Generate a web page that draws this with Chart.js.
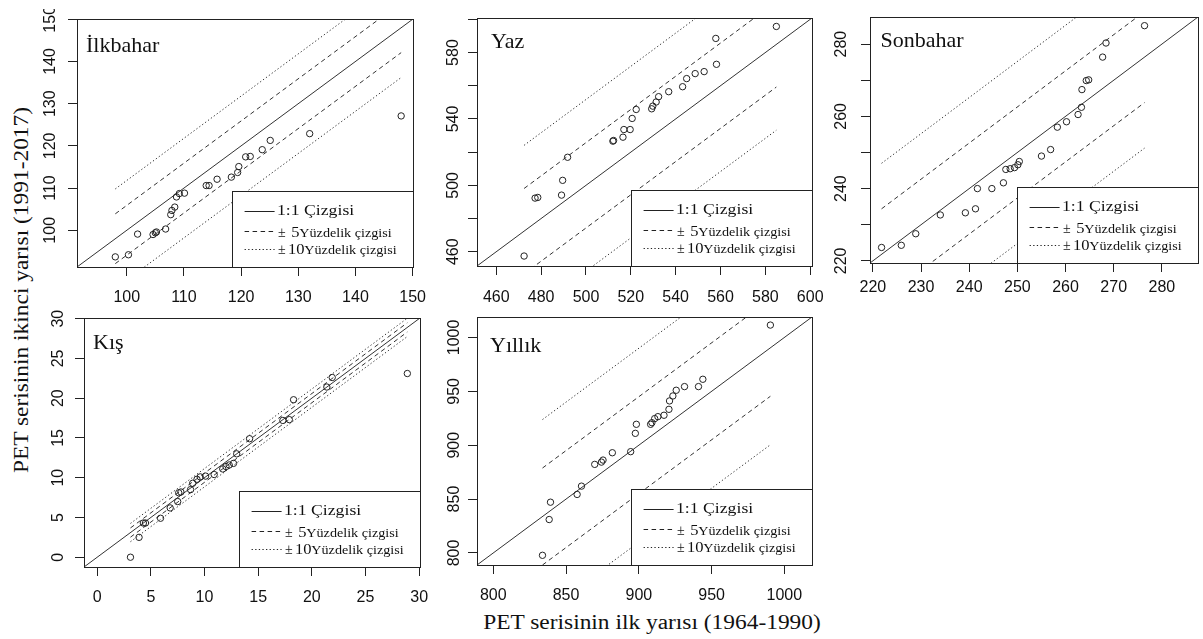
<!DOCTYPE html>
<html>
<head>
<meta charset="utf-8">
<script src="https://cdn.jsdelivr.net/npm/chart.js@4.4.1/dist/chart.umd.min.js"></script>
<style>
  body { margin: 0; background: #fff; width: 1203px; height: 639px; overflow: hidden; position: relative; }
  canvas { position: absolute; }
  .axt { position: absolute; font: 20px "Liberation Serif", "Times New Roman", serif; line-height: 20px;
         white-space: nowrap; color: #111; transform-origin: 0 0; }
</style>
</head>
<body>
<div class="axt" id="ytitle">PET serisinin ikinci yarısı (1991-2017)</div>
<div class="axt" id="xtitle">PET serisinin ilk yarısı (1964-1990)</div>
<canvas id="c1"></canvas>
<canvas id="c2"></canvas>
<canvas id="c3"></canvas>
<canvas id="c4"></canvas>
<canvas id="c5"></canvas>
<script>
// değerler (ilk yarı = x, ikinci yarı = y)
const ilkbaharX = [98.0, 100.3, 101.9, 104.6, 105.0, 105.2, 106.8, 107.7, 107.9, 108.4, 108.7, 109.2, 110.1, 113.9, 114.4, 115.8, 118.3, 119.4, 119.6, 120.8, 121.6, 123.7, 125.1, 132.0, 148.0];
const ilkbaharY = [93.7, 94.2, 99.1, 99.0, 99.4, 99.6, 100.3, 103.7, 104.7, 105.5, 107.9, 108.7, 108.8, 110.6, 110.6, 112.1, 112.6, 113.7, 115.1, 117.4, 117.5, 119.1, 121.3, 122.9, 127.1];

const yazX = [472.4, 477.3, 478.5, 489.1, 489.6, 491.8, 512.0, 512.3, 516.5, 516.9, 519.7, 520.6, 522.4, 529.3, 529.8, 531.3, 532.4, 536.9, 543.1, 544.9, 548.7, 552.7, 558.2, 557.9, 584.9];
const yazY = [457.4, 492.3, 492.7, 494.1, 503.0, 516.9, 526.6, 527.0, 529.0, 533.6, 533.6, 540.3, 545.7, 546.1, 547.7, 550.2, 553.4, 556.4, 559.4, 564.3, 567.3, 568.5, 572.9, 588.5, 595.7];

const sonbaharX = [221.8, 225.9, 228.9, 234.0, 239.2, 241.3, 241.7, 244.7, 247.1, 247.6, 248.5, 249.4, 250.1, 250.4, 255.0, 256.9, 258.3, 260.2, 262.6, 263.3, 263.4, 264.3, 264.8, 267.7, 268.4, 276.4];
const sonbaharY = [223.7, 224.3, 227.5, 232.7, 233.3, 234.4, 240.0, 240.0, 241.6, 245.3, 245.5, 245.8, 246.6, 247.5, 249.0, 250.8, 257.0, 258.5, 260.5, 262.5, 267.4, 269.9, 270.1, 276.4, 280.3, 285.1];

const kisX = [3.1, 3.9, 4.3, 4.5, 5.9, 6.8, 7.5, 7.6, 7.8, 8.7, 8.9, 9.3, 9.6, 10.1, 10.9, 11.7, 12.0, 12.3, 12.7, 13.0, 14.2, 17.3, 17.9, 18.3, 21.4, 21.9, 28.9];
const kisY = [0.0, 2.5, 4.3, 4.3, 4.9, 6.2, 7.0, 8.1, 8.2, 8.5, 9.3, 9.8, 10.1, 10.2, 10.4, 11.1, 11.4, 11.6, 11.8, 13.0, 14.9, 17.2, 17.3, 19.8, 21.4, 22.6, 23.1];

const yillikX = [833.8, 838.4, 839.3, 857.6, 860.6, 869.7, 874.3, 875.4, 881.8, 894.4, 897.6, 898.3, 908.1, 909.0, 910.9, 913.1, 917.3, 920.7, 921.1, 923.4, 925.7, 931.4, 941.0, 944.0, 990.4];
const yillikY = [797.8, 831.0, 847.1, 854.3, 862.0, 882.2, 884.3, 886.2, 893.0, 894.0, 911.0, 919.4, 919.4, 920.9, 924.7, 926.5, 927.8, 933.3, 941.1, 945.7, 951.0, 954.4, 954.4, 961.2, 1011.5];

// eksen sınırları ve tick değerleri
const ilkbaharLim = [91.3, 150.07];
const yazLim = [451.4, 600.8];
const sonbaharLim = [219.4, 287.5];
const kisLim = [-1.23, 30.08];
const yillikLim = [788.8, 1019.0];

const ilkbaharTicks = [100, 110, 120, 130, 140, 150];
const yazTicks = [460, 480, 500, 520, 540, 560, 580, 600];
const yazYLabels = [460, 500, 540, 580];
const sonbaharTicks = [220, 230, 240, 250, 260, 270, 280];
const sonbaharYLabels = [220, 240, 260, 280];
const kisTicks = [0, 5, 10, 15, 20, 25, 30];
const yillikTicks = [800, 850, 900, 950, 1000];

// ±5 ve ±10 çizgilerinin 1:1 çizgisinden uzaklığı
const ilkbaharBand = [5.9, 11.8];
const yazBand = [25.7, 51.7];
const sonbaharBand = [12.6, 25.2];
const kisBand = [0.58, 1.15];
const yillikBand = [45, 90];

const lineLabel = '1:1 Çizgisi';
const bandLabel = 'Yüzdelik çizgisi';
const bandValues = ['5', '10'];

const AXIS_W = 60, AXIS_H = 45, PAD_T = 10;
const sansFont = '"Liberation Sans", Arial, sans-serif';
const serifFont = '"Liberation Serif", "Times New Roman", serif';

const panels = [
    { id: 'c1', title: 'İlkbahar', x: ilkbaharX, y: ilkbaharY, lim: ilkbaharLim, xTicks: ilkbaharTicks, yTicks: ilkbaharTicks, yLabels: ilkbaharTicks, band: ilkbaharBand,
      box: [77, 19, 413, 267], padR: 20, yLab: 28, xLab: 29, tx: 9, ty: 33 },
    { id: 'c2', title: 'Yaz', x: yazX, y: yazY, lim: yazLim, xTicks: yazTicks, yTicks: yazTicks, yLabels: yazYLabels, band: yazBand,
      box: [477, 18, 812, 266], padR: 20, yLab: 25, xLab: 30, tx: 14, ty: 30 },
    { id: 'c3', title: 'Sonbahar', x: sonbaharX, y: sonbaharY, lim: sonbaharLim, xTicks: sonbaharTicks, yTicks: sonbaharTicks, yLabels: sonbaharYLabels, band: sonbaharBand,
      box: [870, 17, 1202, 263], padR: 1, yLab: 30, xLab: 23, tx: 10.5, ty: 30 },
    { id: 'c4', title: 'Kış', x: kisX, y: kisY, lim: kisLim, xTicks: kisTicks, yTicks: kisTicks, yLabels: kisTicks, band: kisBand,
      box: [84, 318, 420, 567], padR: 20, yLab: 27, xLab: 29, tx: 9, ty: 31 },
    { id: 'c5', title: 'Yıllık', x: yillikX, y: yillikY, lim: yillikLim, xTicks: yillikTicks, yTicks: yillikTicks, yLabels: yillikTicks, band: yillikBand,
      box: [477, 317, 812, 565], padR: 20, yLab: 23.4, xLab: 29, tx: 13, ty: 35 }
];

// yazıyı yatayda biraz genişleterek çiz
function stretchText(ctx, text, x, y, font, sx) {
    ctx.save();
    ctx.translate(x, y);
    ctx.scale(sx, 1);
    ctx.font = font;
    ctx.textAlign = 'left';
    ctx.textBaseline = 'alphabetic';
    ctx.fillText(text, 0, 0);
    ctx.restore();
}

function drawLegend(ctx, a) {
    const L = Math.round(a.right - 181), T = Math.round(a.bottom - 76.5);
    ctx.fillStyle = '#fff';
    ctx.fillRect(L, T, a.right - L, a.bottom - T);
    ctx.strokeStyle = '#222';
    ctx.lineWidth = 1;
    ctx.setLineDash([]);
    ctx.strokeRect(L + 0.5, T + 0.5, a.right - L, a.bottom - T);

    const rows = [19.7, 40.2, 58.1];
    const dashes = [[], [4.5, 3.5], [1.3, 2.3]];
    rows.forEach((r, i) => {
        const yy = Math.round(T + r) + 0.5;
        ctx.setLineDash(dashes[i]);
        ctx.beginPath();
        ctx.moveTo(L + 12.6, yy);
        ctx.lineTo(L + 42.6, yy);
        ctx.stroke();
    });
    ctx.setLineDash([]);
    ctx.fillStyle = '#111';
    stretchText(ctx, lineLabel, L + 45, T + 24, '15px ' + serifFont, 1.18);
    stretchText(ctx, '±', L + 46, T + 45.5, '14px ' + serifFont, 1);
    stretchText(ctx, bandValues[0], L + 59.3, T + 45.5, '14px ' + serifFont, 1.18);
    stretchText(ctx, bandLabel, L + 67.3, T + 45.5, '12px ' + serifFont, 1.18);
    stretchText(ctx, '±', L + 46, T + 63.3, '14px ' + serifFont, 1);
    stretchText(ctx, bandValues[1], L + 56, T + 63.3, '14px ' + serifFont, 1.18);
    stretchText(ctx, bandLabel, L + 72.3, T + 63.3, '12px ' + serifFont, 1.18);
}

function makeDecor(p) {
    return {
        id: 'decor' + p.id,
        afterDatasetsDraw(chart) {
            drawLegend(chart.ctx, chart.chartArea);
        },
        afterDraw(chart) {
            const ctx = chart.ctx, a = chart.chartArea;
            const xs = chart.scales.x, ys = chart.scales.y;
            ctx.save();
            ctx.strokeStyle = '#222';
            ctx.lineWidth = 1;
            ctx.setLineDash([]);
            ctx.strokeRect(a.left + 0.5, a.top + 0.5, a.right - a.left, a.bottom - a.top);

            ctx.fillStyle = '#111';
            ctx.font = '16px ' + sansFont;
            ctx.textAlign = 'center';
            ctx.textBaseline = 'alphabetic';
            p.xTicks.forEach(v => {
                ctx.fillText(String(v), xs.getPixelForValue(v), a.bottom + p.xLab + 5.7);
            });
            p.yLabels.forEach(v => {
                ctx.save();
                ctx.translate(a.left - p.yLab + 5.7, ys.getPixelForValue(v));
                ctx.rotate(-Math.PI / 2);
                ctx.fillText(String(v), 0, 0);
                ctx.restore();
            });

            ctx.font = '22px ' + serifFont;
            ctx.textAlign = 'left';
            ctx.fillText(p.title, a.left + p.tx, a.top + p.ty);
            ctx.restore();
        }
    };
}

function scaleOpts(lim, ticks, pos) {
    return {
        type: 'linear',
        position: pos,
        min: lim[0],
        max: lim[1],
        afterBuildTicks: s => { s.ticks = ticks.map(v => ({ value: v })); },
        afterFit: s => { if (pos === 'bottom') s.height = AXIS_H; else s.width = AXIS_W; },
        ticks: { display: false },
        grid: { drawOnChartArea: false, drawTicks: true, tickLength: 9, color: '#222', lineWidth: 1 },
        border: { display: false }
    };
}

function buildDatasets(p) {
    const x0 = Math.min(...p.x), x1 = Math.max(...p.x);
    const band = d => [{ x: x0, y: x0 + d }, { x: x1, y: x1 + d }];
    const line = (data, dash) => ({
        type: 'line', data: data, borderColor: '#333', borderWidth: 1, borderDash: dash,
        pointRadius: 0, fill: false, tension: 0
    });
    return [
        {
            type: 'scatter',
            data: p.x.map((v, i) => ({ x: v, y: p.y[i] })),
            pointStyle: 'circle', pointRadius: 3.2, borderColor: '#222', borderWidth: 1,
            backgroundColor: 'rgba(0,0,0,0)'
        },
        line([{ x: p.lim[0], y: p.lim[0] }, { x: p.lim[1], y: p.lim[1] }], []),
        line(band(p.band[0]), [4.5, 3.5]),
        line(band(-p.band[0]), [4.5, 3.5]),
        line(band(p.band[1]), [1.3, 2.3]),
        line(band(-p.band[1]), [1.3, 2.3])
    ];
}

panels.forEach(p => {
    const [bl, bt, br, bb] = p.box;
    const cv = document.getElementById(p.id);
    cv.width = (br - bl) + AXIS_W + p.padR;
    cv.height = (bb - bt) + PAD_T + AXIS_H;
    cv.style.left = (bl - AXIS_W) + 'px';
    cv.style.top = (bt - PAD_T) + 'px';

    new Chart(cv.getContext('2d'), {
        type: 'scatter',
        data: { datasets: buildDatasets(p) },
        options: {
            responsive: false,
            animation: false,
            devicePixelRatio: 1,
            events: [],
            layout: { padding: { left: 0, top: PAD_T, right: p.padR, bottom: 0 } },
            plugins: { legend: { display: false }, tooltip: { enabled: false } },
            scales: {
                x: scaleOpts(p.lim, p.xTicks, 'bottom'),
                y: scaleOpts(p.lim, p.yTicks, 'left')
            }
        },
        plugins: [makeDecor(p)]
    });
});

// eksen başlıkları
const yt = document.getElementById('ytitle');
yt.style.left = '11.25px';
yt.style.top = '290px';
yt.style.transform = 'rotate(-90deg) scaleX(1.17) translateX(-50%)';

const xt = document.getElementById('xtitle');
xt.style.left = '651.7px';
xt.style.top = '611.5px';
xt.style.transform = 'scaleX(1.17) translateX(-50%)';
</script>
</body>
</html>
